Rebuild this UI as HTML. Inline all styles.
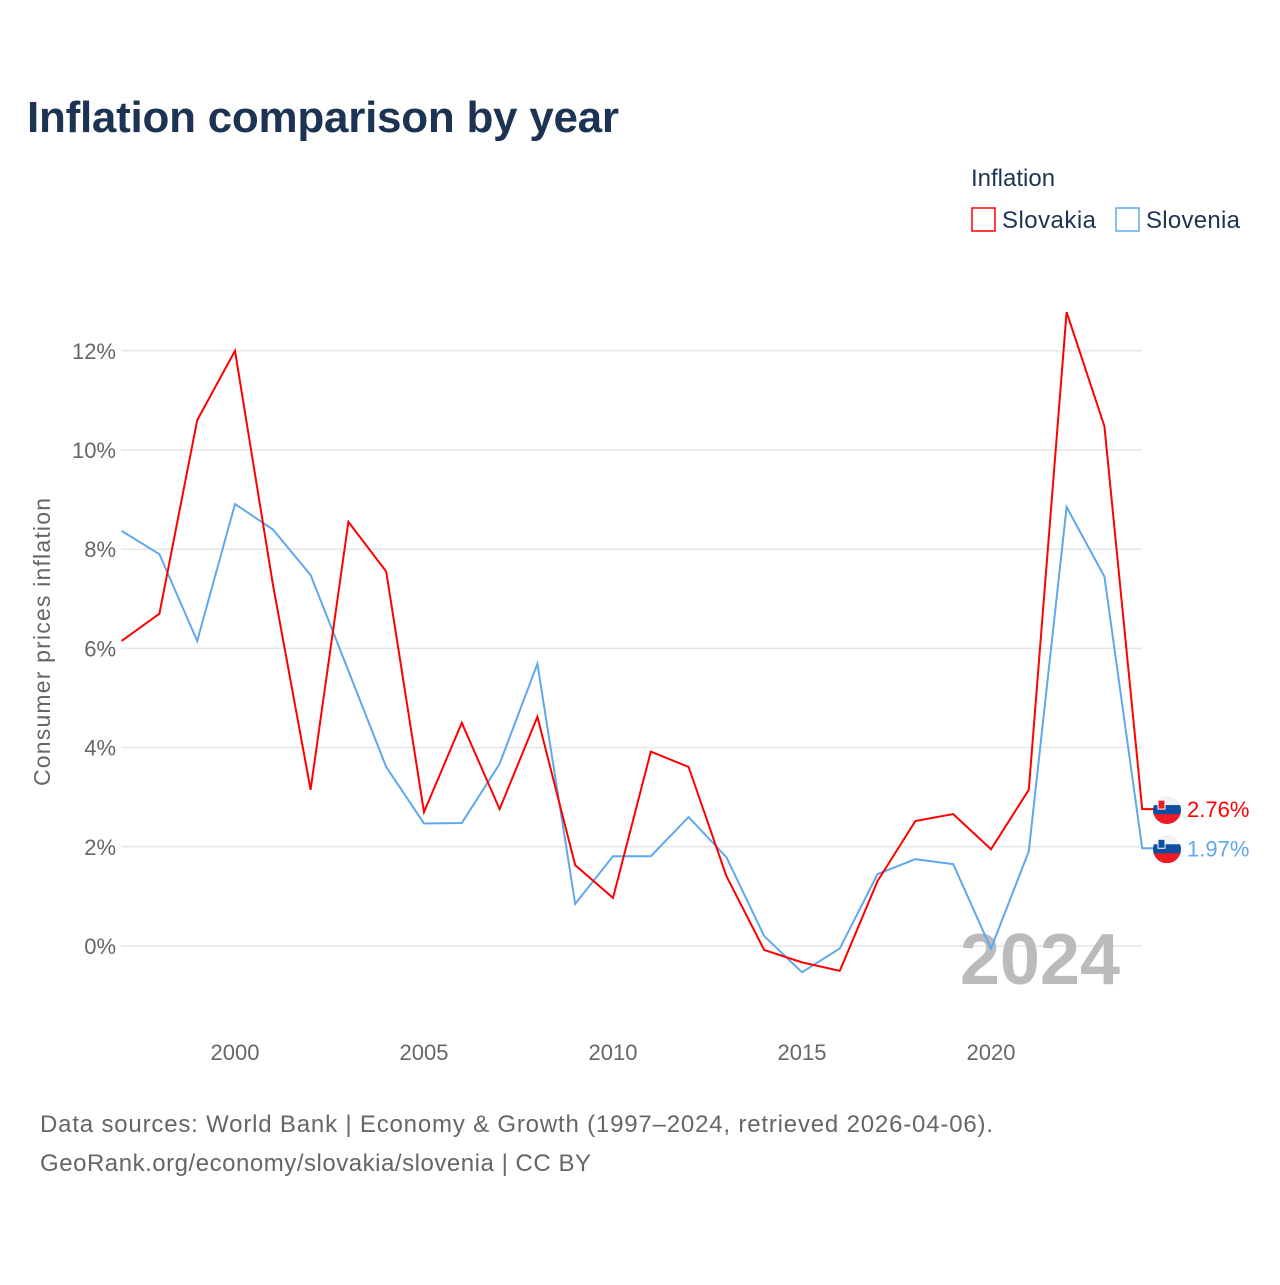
<!DOCTYPE html>
<html><head><meta charset="utf-8"><style>
body{margin:0;background:#fff;font-family:"Liberation Sans",sans-serif;}
svg text{font-family:"Liberation Sans",sans-serif;}
</style></head><body>
<svg id="c" width="1280" height="1280" xmlns="http://www.w3.org/2000/svg">
<rect width="1280" height="1280" fill="#fff"/>
<text x="27" y="132" font-size="44" font-weight="bold" fill="#1d3353" textLength="592">Inflation comparison by year</text>
<text x="971" y="186" font-size="24" fill="#1d3353">Inflation</text>
<g><rect x="972" y="208" width="23" height="23" fill="none" stroke="#ff0000" stroke-width="1.5"/><text x="1002" y="228" font-size="24" fill="#1d3353" textLength="94">Slovakia</text></g>
<g><rect x="1116" y="208" width="23" height="23" fill="none" stroke="#5fa8ee" stroke-width="1.5"/><text x="1146" y="228" font-size="24" fill="#1d3353" textLength="94">Slovenia</text></g>
<text transform="translate(50,642) rotate(-90)" text-anchor="middle" font-size="23" fill="#666" textLength="288">Consumer prices inflation</text>
<g id="grid"></g><g id="xt"></g>
<text x="1120" y="984" text-anchor="end" font-size="72" font-weight="bold" fill="#bbb">2024</text>
<g id="lines"></g>
<text x="40" y="1132" font-size="24" fill="#666" textLength="953">Data sources: World Bank | Economy &amp; Growth (1997–2024, retrieved 2026-04-06).</text>
<text x="40" y="1171" font-size="24" fill="#666" textLength="551">GeoRank.org/economy/slovakia/slovenia | CC BY</text>
</svg>
<script>
const years=[1997,1998,1999,2000,2001,2002,2003,2004,2005,2006,2007,2008,2009,2010,2011,2012,2013,2014,2015,2016,2017,2018,2019,2020,2021,2022,2023,2024];
const slovakia=[6.15,6.7,10.6,12.0,7.3,3.15,8.55,7.55,2.7,4.5,2.76,4.62,1.63,0.97,3.92,3.61,1.41,-0.08,-0.33,-0.5,1.31,2.52,2.66,1.95,3.15,12.78,10.48,2.76];
const slovenia=[8.37,7.9,6.15,8.91,8.4,7.48,5.55,3.61,2.47,2.48,3.67,5.69,0.85,1.81,1.81,2.6,1.79,0.2,-0.53,-0.05,1.45,1.75,1.65,-0.05,1.91,8.85,7.45,1.97];
const yTicks=[0,2,4,6,8,10,12];
const xTicks=[2000,2005,2010,2015,2020];
const X=y=>121.6+(y-1997)*37.8, Y=v=>946-v*49.6;
const NS="http://www.w3.org/2000/svg";
function mk(t,a,p){const e=document.createElementNS(NS,t);for(const k in a)e.setAttribute(k,a[k]);p.appendChild(e);return e;}
const g=document.getElementById('grid');
yTicks.forEach(v=>{
 const l=mk('line',{x1:121,x2:1142,y1:Y(v),y2:Y(v),stroke:'#e6e6e6','stroke-width':1.5},g);
 
 
 const t=mk('text',{x:116,y:Y(v)+8,'text-anchor':'end','font-size':22,fill:'#666'},g);t.textContent=v+'%';
 
 
});
const xt=document.getElementById('xt');
xTicks.forEach(v=>{
 const t=mk('text',{x:X(v),y:1060,'text-anchor':'middle','font-size':22,fill:'#666'},xt);t.textContent=v;
 
 
});
const L=document.getElementById('lines');
const svg=document.getElementById('c');
const defs=mk('defs',{},svg);
function series(vals,col,name){
 let d=vals.map((v,i)=>(i?'L':'M')+X(years[i])+' '+Y(v)).join(' ');
 const last=vals[vals.length-1];
 d+=' L'+(X(2024)+12)+' '+Y(last);
 const p=mk('path',{d:d,fill:'none',stroke:col,'stroke-width':2},L);
 
 
 const cy=Y(last)+1;
 const cp=mk('clipPath',{id:'cp-'+name},defs);
 mk('circle',{cx:1167,cy:cy,r:14},cp);
 const fg=mk('g',{'clip-path':'url(#cp-'+name+')'},L);
 
 
 mk('rect',{x:1153,y:cy-14,width:28,height:10,fill:'#f2f2f2'},fg);
 mk('rect',{x:1153,y:cy-5,width:28,height:10,fill:'#0b4ea2'},fg);
 mk('rect',{x:1153,y:cy+4,width:28,height:10,fill:'#ee1c25'},fg);
 mk('rect',{x:1158,y:cy-10,width:7,height:9,fill:name==='slovakia'?'#ee1c25':'#0b4ea2',stroke:'#fff','stroke-width':1},fg);
 const t=mk('text',{x:1187,y:Y(last)+8,'font-size':22,fill:col},L);t.textContent=last.toFixed(2)+'%';
 
 
}
series(slovenia,'#5fa8ee','slovenia');
series(slovakia,'#ff0000','slovakia');
</script>
</body></html>
